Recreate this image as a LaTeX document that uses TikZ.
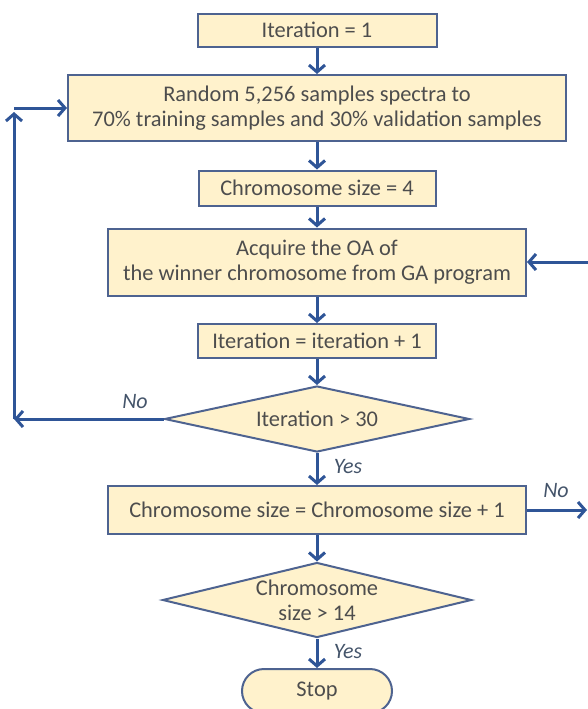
\documentclass[tikz,border=0pt]{standalone}
\usepackage{fontspec}
\setmainfont{Carlito}
\usetikzlibrary{shapes.geometric,arrows.meta}
\definecolor{boxfill}{HTML}{FFF2CC}
\definecolor{boxline}{HTML}{4E6390}
\definecolor{arrowblue}{HTML}{2F5597}
\definecolor{textgray}{HTML}{4D4D4D}
\definecolor{labelblue}{HTML}{44546A}
\tikzset{
	flowbox/.style={draw=boxline, line width=1pt, fill=boxfill, text=textgray, align=center, inner sep=0pt},
	decision/.style={flowbox, diamond, aspect=4.2},
	link/.style={draw=arrowblue, line width=1.5pt, -{Straight Barb[length=3.5pt,width=8pt]}},
	answer/.style={text=labelblue, font=\fontsize{11}{12.5}\selectfont\itshape}
}
\begin{document}
\begin{tikzpicture}[x=0.5pt, y=-0.5pt, font=\fontsize{11.2}{12.5}\selectfont]
	\useasboundingbox (0,0) rectangle (588,709);
	\node [flowbox, minimum width=119.5pt, minimum height=16.5pt] (iter) at (317,30) {Iteration = 1};
	\node [flowbox, minimum width=249pt, minimum height=33pt] (split) at (317,108) {Random 5,256 samples spectra to\\70\% training samples and 30\% validation samples};
	\node [flowbox, minimum width=118.5pt, minimum height=17.5pt] (size) at (317,188) {Chromosome size = 4};
	\node [flowbox, minimum width=209pt, minimum height=33.5pt] (acquire) at (317,262) {Acquire the OA of\\the winner chromosome from GA program};
	\node [flowbox, minimum width=119pt, minimum height=17pt] (count) at (317,341) {Iteration = iteration + 1};
	\node [decision, minimum width=152.5pt, minimum height=33pt] (iterTest) at (317,419) {Iteration > 30};
	\node [flowbox, minimum width=209pt, minimum height=24pt] (grow) at (317,510) {Chromosome size = Chromosome size + 1};
	\node [decision, minimum width=154.5pt, minimum height=37.5pt] (sizeTest) at (317,600) {Chromosome\\size > 14};
	\node [flowbox, rounded corners=11pt, minimum width=75pt, minimum height=22pt] (stop) at (317,691) {Stop};
	% loop back and side connectors
	\coordinate (loopL) at (14,419);
	\coordinate (loopT) at (14,108);
	\coordinate (feedR) at (588,262);
	\coordinate (exitR) at (587,510);
	\draw [link] (iter) -- (split);
	\draw [link] (split) -- (size);
	\draw [link] (size) -- (acquire);
	\draw [link] (acquire) -- (count);
	\draw [link] (count) -- (iterTest);
	\draw [link] (iterTest) -- (grow);
	\draw [link] (grow) -- (sizeTest);
	\draw [link] (sizeTest) -- (stop);
	\draw [link] (iterTest.west) -- (loopL);
	\draw [link] (loopL) -- ([yshift=-2pt]loopT);
	\draw [link] (loopT) -- (split.west);
	\draw [link] (feedR) -- (acquire.east);
	\draw [link] (grow.east) -- (exitR);
	\node [answer] (noLoop) at (135,402) {No};
	\node [answer] (yesGrow) at (348,467) {Yes};
	\node [answer] (noExit) at (556,491) {No};
	\node [answer] (yesStop) at (348,652) {Yes};
\end{tikzpicture}
\end{document}
